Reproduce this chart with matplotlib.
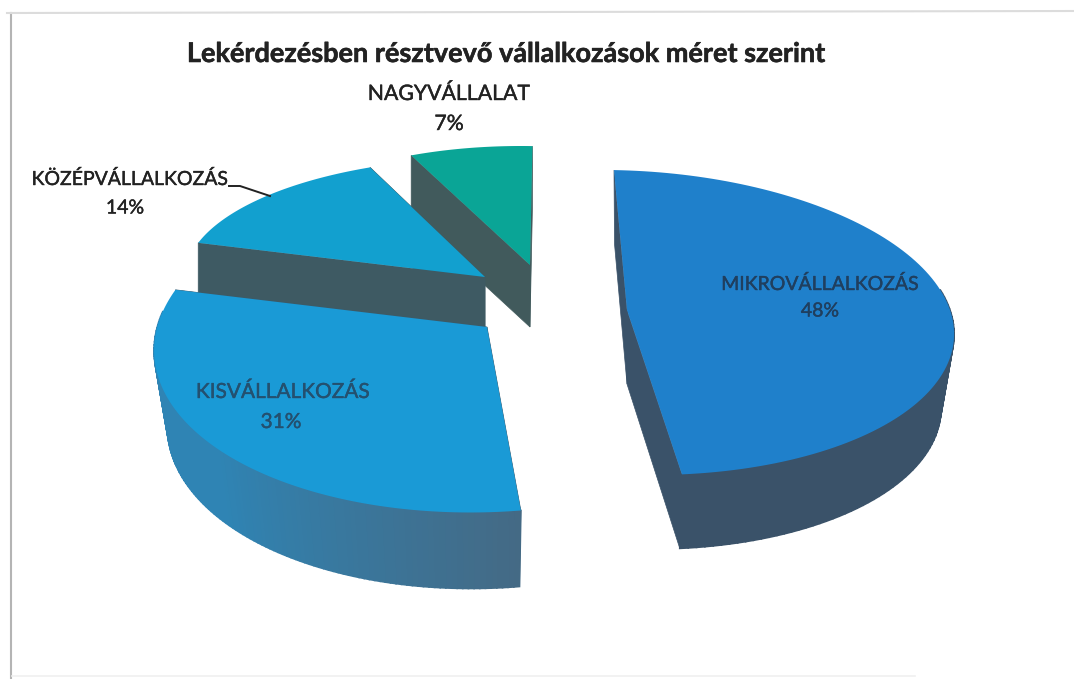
import numpy as np
import matplotlib
matplotlib.use("Agg")
import matplotlib.pyplot as plt
import matplotlib.patheffects as pe
from matplotlib.colors import to_rgb

plt.rcParams['font.family'] = ['Lato', 'DejaVu Sans']

title = "Lekérdezésben résztvevő vállalkozások méret szerint"
labels = ["MIKROVÁLLALKOZÁS", "KISVÁLLALKOZÁS", "KÖZÉPVÁLLALKOZÁS", "NAGYVÁLLALAT"]
values = [48, 31, 14, 7]

# look of the 3d pie, one entry for each slice
apex_x = [627, 487, 485, 530]
apex_y = [310, 327, 277, 265]
rad_x = [323, 332, 300, 284]
rad_y = [151.5, 170, 119, 119]
persp = [0.082, 0.082, 0.0, 0.0]
shear = [-25, -3, 2, -9]
tilt = [0, -11, 0, 0]
depth = [74, 76, 60, 62]
base_scale = [0.96, 0.96, 1.0, 1.0]
top_col = ["#1f80cb", "#1a9ad6", "#12a0cf", "#0aa596"]
wall_near = ["#3a5269", "#446a85", "#3e5a63", "#415a5c"]
wall_far = ["#3a5269", "#2f84b4", "#3e5a63", "#415a5c"]
side_col = ["#3a5269", "#3b5a6e", "#3e5a63", "#415a5c"]
start_deg = 2.3

# text: size and place of each label
label_size = [14.0, 15.0, 14.0, 15.3]
label_x = [820, 283, 130, 449]
label_y = [284, 392, 179, 94]
pct_x = [820, 281, 125, 449]
pct_y = [311, 422, 208, 124]
label_col = ["#1f3f5f", "#24506f", "#222222", "#222222"]

fig = plt.figure(figsize=(10.74, 6.79), dpi=100)
ax = fig.add_axes([0, 0, 1, 1])
ax.set_xlim(0, 1074)
ax.set_ylim(679, 0)
ax.axis("off")


def project(i, theta):
    X = np.sin(theta)
    Y = np.cos(theta)
    w = 1 + persp[i] * Y
    return apex_x[i] + rad_x[i] * X / w + shear[i] * Y, apex_y[i] - rad_y[i] * Y / w + tilt[i] * X


def draw_slice(i, a0, a1, z):
    th = np.radians(np.linspace(a0, a1, 120))
    x, y = project(i, th)
    # the lower face is a bit smaller than the top one
    xb = apex_x[i] + (x - apex_x[i]) * base_scale[i]
    yb = y + depth[i]
    ab = apex_y[i] + depth[i]
    for j in [0, -1]:
        ax.fill([apex_x[i], x[j], xb[j], apex_x[i]], [apex_y[i], y[j], yb[j], ab],
                color=side_col[i], lw=0.5, zorder=z)
    # rim wall in small pieces so it can fade from one colour to the other
    c0 = np.array(to_rgb(wall_near[i]))
    c1 = np.array(to_rgb(wall_far[i]))
    for k in range(len(th) - 1):
        if np.cos(th[k]) > 0.15:
            continue
        t = min(1, 2 * k / (len(th) - 2))
        ax.fill([x[k], x[k + 1], xb[k + 1], xb[k]], [y[k], y[k + 1], yb[k + 1], yb[k]],
                color=c0 + (c1 - c0) * t, lw=1.2, zorder=z)
    ax.fill(np.r_[apex_x[i], x], np.r_[apex_y[i], y], color=top_col[i], lw=0, zorder=z + 0.5)


angles = start_deg + np.cumsum([0] + [v / sum(values) * 360 for v in values])
# back slices are drawn under the front ones
for z, i in enumerate([3, 2, 0, 1]):
    shift = 360 if i == 3 else 0
    draw_slice(i, angles[i] - shift, angles[i + 1] - shift, 2 + z)

thick = [pe.withStroke(linewidth=0.4, foreground="#222222")]
ax.text(507, 54, title, ha="center", va="center", fontsize=19.5, fontweight="bold",
        color="#222222", path_effects=thick)

for i in range(4):
    ax.text(label_x[i], label_y[i], labels[i], ha="center", va="center", fontsize=label_size[i],
            color=label_col[i], zorder=10, path_effects=[pe.withStroke(linewidth=0.3, foreground=label_col[i])])
    ax.text(pct_x[i], pct_y[i], "%d%%" % values[i], ha="center", va="center", fontsize=label_size[i],
            color=label_col[i], zorder=10, path_effects=[pe.withStroke(linewidth=0.3, foreground=label_col[i])])
ax.plot([229, 240, 270], [186, 186, 196], color="#222222", lw=1.4, zorder=10)

# chart border, only parts of it came through the scan
ax.plot([10.5, 10.5], [13, 679], color="#b4b4b4", lw=1.5)
ax.plot([7, 1074], [13, 11], color="#dcdcdc", lw=1.5)
ax.plot([12, 915], [676, 676], color="#f0f0f0", lw=1.2)

fig.savefig("out.png", dpi=100, facecolor="white")
